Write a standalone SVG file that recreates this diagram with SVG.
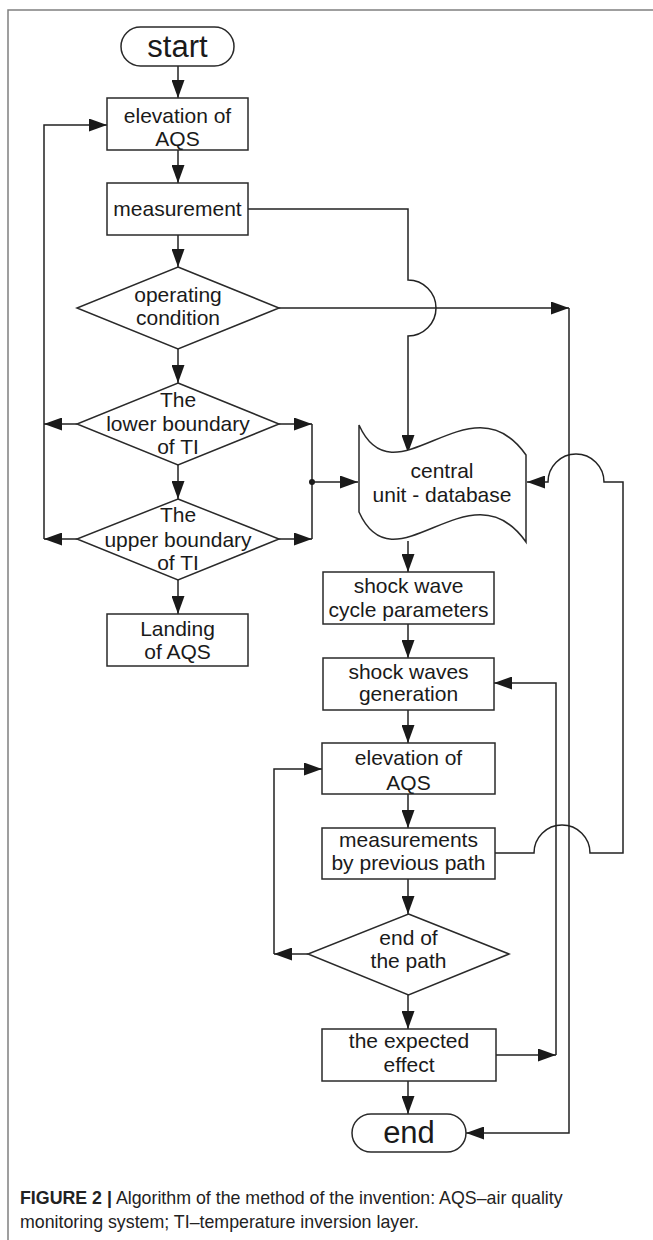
<svg xmlns="http://www.w3.org/2000/svg" width="653" height="1240" viewBox="0 0 653 1240">
<style>
.box{fill:#fff;stroke:#2a2a2a;stroke-width:1.5}
.t{font-family:"Liberation Sans",Arial,sans-serif;font-size:21px;fill:#1a1a1a;text-anchor:middle}
.big{font-size:31px}
.ln{fill:none;stroke:#222;stroke-width:1.5}
.cap{font-family:"Liberation Sans",Arial,sans-serif;font-size:17.8px;fill:#222}
</style>
<defs>
<marker id="ah" markerUnits="userSpaceOnUse" markerWidth="18" markerHeight="13" refX="18" refY="6.5" orient="auto">
<path d="M0,0 L18,6.5 L0,13 z" fill="#1a1a1a"/>
</marker>
</defs>
<rect width="653" height="1240" fill="#fff"/>
<g id="frame"><path d="M8,1240 V10 H653" fill="none" stroke="#808080" stroke-width="1.5"/></g>

<g id="connectors">
<path class="ln" d="M178,66 V98" marker-end="url(#ah)"/>
<path class="ln" d="M178,150 V183" marker-end="url(#ah)"/>
<path class="ln" d="M178,235 V267" marker-end="url(#ah)"/>
<path class="ln" d="M178,349 V383" marker-end="url(#ah)"/>
<path class="ln" d="M178,465 V499" marker-end="url(#ah)"/>
<path class="ln" d="M178,580 V614" marker-end="url(#ah)"/>
<path class="ln" d="M77,424 H44" marker-end="url(#ah)"/>
<path class="ln" d="M77,539 H44" marker-end="url(#ah)"/>
<path class="ln" d="M44,539 V125 H107" marker-end="url(#ah)"/>
<path class="ln" d="M278,424 H312" marker-end="url(#ah)"/>
<path class="ln" d="M278,539 H312" marker-end="url(#ah)"/>
<path class="ln" d="M312,424 V539"/>
<circle cx="312" cy="482" r="3" fill="#1a1a1a"/>
<path class="ln" d="M312,482 H358" marker-end="url(#ah)"/>
<path class="ln" d="M248,209 H408 V280 A28,28 0 0 1 408,336 V453" marker-end="url(#ah)"/>
<path class="ln" d="M278,308 H569" marker-end="url(#ah)"/>
<path class="ln" d="M569,308 V1133 H466" marker-end="url(#ah)"/>
<path class="ln" d="M408,541 V572" marker-end="url(#ah)"/>
<path class="ln" d="M408,624 V658" marker-end="url(#ah)"/>
<path class="ln" d="M408,710 V743" marker-end="url(#ah)"/>
<path class="ln" d="M408,794 V828" marker-end="url(#ah)"/>
<path class="ln" d="M408,879 V914" marker-end="url(#ah)"/>
<path class="ln" d="M408,995 V1029" marker-end="url(#ah)"/>
<path class="ln" d="M408,1081 V1114" marker-end="url(#ah)"/>
<path class="ln" d="M308,954 H274" marker-end="url(#ah)"/>
<path class="ln" d="M274,954 V769 H322" marker-end="url(#ah)"/>
<path class="ln" d="M496,1055 H556" marker-end="url(#ah)"/>
<path class="ln" d="M556,1055 V683 H494" marker-end="url(#ah)"/>
<path class="ln" d="M495,853 H534 A28,28 0 0 1 590,853 H623 V482 H604 A28,28 0 0 0 548,482 H527" marker-end="url(#ah)"/>
</g>

<g id="start">
<rect class="box" x="121" y="27" width="113" height="39" rx="19.5"/>
<text class="t big" x="177.5" y="56.5">start</text>
</g>
<g id="elevation1">
<rect class="box" x="107" y="98" width="141" height="52"/>
<text class="t" x="177.5" y="123">elevation of</text>
<text class="t" x="177.5" y="146">AQS</text>
</g>
<g id="measurement">
<rect class="box" x="107" y="183" width="141" height="52"/>
<text class="t" x="177.5" y="216">measurement</text>
</g>
<g id="operating">
<polygon class="box" points="178,267 279,308 178,349 77,308"/>
<text class="t" x="178" y="302">operating</text>
<text class="t" x="178" y="325">condition</text>
</g>
<g id="lower">
<polygon class="box" points="178,383 279,424 178,465 77,424"/>
<text class="t" x="178" y="407">The</text>
<text class="t" x="178" y="431">lower boundary</text>
<text class="t" x="178" y="454">of TI</text>
</g>
<g id="upper">
<polygon class="box" points="178,499 279,539 178,580 77,539"/>
<text class="t" x="178" y="522">The</text>
<text class="t" x="178" y="547">upper boundary</text>
<text class="t" x="178" y="570">of TI</text>
</g>
<g id="landing">
<rect class="box" x="107" y="614" width="141" height="52"/>
<text class="t" x="177.5" y="636">Landing</text>
<text class="t" x="177.5" y="659">of AQS</text>
</g>
<g id="database">
<path class="box" d="M359,425 C395,505 470,375 526,455 V542 C470,462 395,592 359,512 Z"/>
<text class="t" x="442" y="478">central</text>
<text class="t" x="442" y="502">unit - database</text>
</g>
<g id="cycle">
<rect class="box" x="323" y="572" width="171" height="52"/>
<text class="t" x="408.5" y="593">shock wave</text>
<text class="t" x="408.5" y="617">cycle parameters</text>
</g>
<g id="generation">
<rect class="box" x="323" y="658" width="171" height="52"/>
<text class="t" x="408.5" y="679">shock waves</text>
<text class="t" x="408.5" y="701">generation</text>
</g>
<g id="elevation2">
<rect class="box" x="322" y="743" width="173" height="51"/>
<text class="t" x="408.5" y="765">elevation of</text>
<text class="t" x="408.5" y="790">AQS</text>
</g>
<g id="measurements2">
<rect class="box" x="322" y="828" width="173" height="51"/>
<text class="t" x="408.5" y="847">measurements</text>
<text class="t" x="408.5" y="870">by previous path</text>
</g>
<g id="endpath">
<polygon class="box" points="408.5,914 509,954 408.5,995 308,954"/>
<text class="t" x="408.5" y="945">end of</text>
<text class="t" x="408.5" y="968">the path</text>
</g>
<g id="expected">
<rect class="box" x="322" y="1029" width="174" height="52"/>
<text class="t" x="409" y="1048">the expected</text>
<text class="t" x="409" y="1072">effect</text>
</g>
<g id="end">
<rect class="box" x="352" y="1114" width="114" height="38" rx="19"/>
<text class="t big" x="409" y="1143">end</text>
</g>

<g id="caption">
<text class="cap" x="20" y="1204"><tspan font-weight="bold">FIGURE 2 |</tspan> Algorithm of the method of the invention: AQS–air quality</text>
<text class="cap" x="20" y="1228">monitoring system; TI–temperature inversion layer.</text>
</g>
</svg>
